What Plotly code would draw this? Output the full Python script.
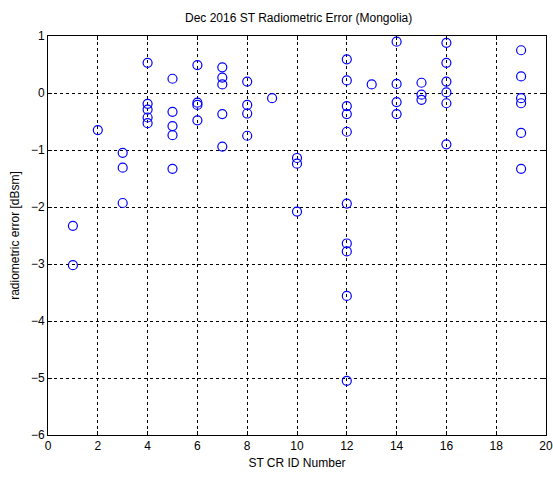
import plotly.graph_objects as go

# radiometric error per ST CR id
cr_id = [1, 1,
         2,
         3, 3, 3,
         4, 4, 4, 4, 4,
         5, 5, 5, 5, 5,
         6, 6, 6, 6,
         7, 7, 7, 7, 7,
         8, 8, 8, 8,
         9,
         10, 10, 10,
         12, 12, 12, 12, 12, 12, 12, 12, 12, 12,
         13,
         14, 14, 14, 14,
         15, 15, 15,
         16, 16, 16, 16, 16, 16,
         19, 19, 19, 19, 19, 19]
rad_err = [-2.33, -3.02,
           -0.65,
           -1.05, -1.31, -1.93,
           0.53, -0.19, -0.29, -0.43, -0.53,
           0.25, -0.33, -0.58, -0.74, -1.33,
           0.49, -0.17, -0.21, -0.48,
           0.45, 0.27, 0.15, -0.37, -0.94,
           0.20, -0.21, -0.36, -0.75,
           -0.09,
           -1.14, -1.24, -2.08,
           0.59, 0.22, -0.23, -0.37, -0.68, -1.94, -2.64, -2.78, -3.56, -5.05,
           0.15,
           0.90, 0.16, -0.16, -0.37,
           0.18, -0.03, -0.12,
           0.88, 0.53, 0.20, 0.01, -0.18, -0.90,
           0.75, 0.29, -0.09, -0.18, -0.70, -1.33]

x_ticks = list(range(0, 21, 2))
y_ticks = list(range(-6, 2))

fig = go.Figure()
fig.add_trace(go.Scatter(
    x=cr_id, y=rad_err, mode='markers',
    marker=dict(symbol='circle-open', size=9, color='#0000ff', line=dict(width=1.2)),
    showlegend=False
))

axis_style = dict(
    showline=True, linecolor='black', linewidth=1, mirror='allticks',
    ticks='inside', ticklen=4, tickcolor='black',
    showgrid=True, gridcolor='black', gridwidth=1, griddash='3px,3px',
    zeroline=False, automargin=False,
    tickfont=dict(family='Arial', size=12, color='black'),
)

fig.update_xaxes(range=[0, 20], tickvals=x_ticks,
                 title=dict(text='ST CR ID Number', font=dict(family='Arial', size=12, color='black'), standoff=6),
                 **axis_style)
fig.update_yaxes(range=[-6, 1], tickvals=y_ticks,
                 title=dict(text='radiometric error [dBsm]', font=dict(family='Arial', size=12, color='black'), standoff=8),
                 **axis_style)

fig.update_layout(
    width=553, height=477,
    paper_bgcolor='white', plot_bgcolor='white',
    margin=dict(l=48, r=7, t=36, b=42),
    title=dict(text='Dec 2016 ST Radiometric Error (Mongolia)', x=0.54, xanchor='center',
               y=0.962, yanchor='middle', font=dict(family='Arial', size=12, color='black')),
)

# page body has a default margin; drop it so the figure sits at the window corner
fig.write_html("out.html", config={'displayModeBar': False},
               post_script="document.body.style.margin='0';")
